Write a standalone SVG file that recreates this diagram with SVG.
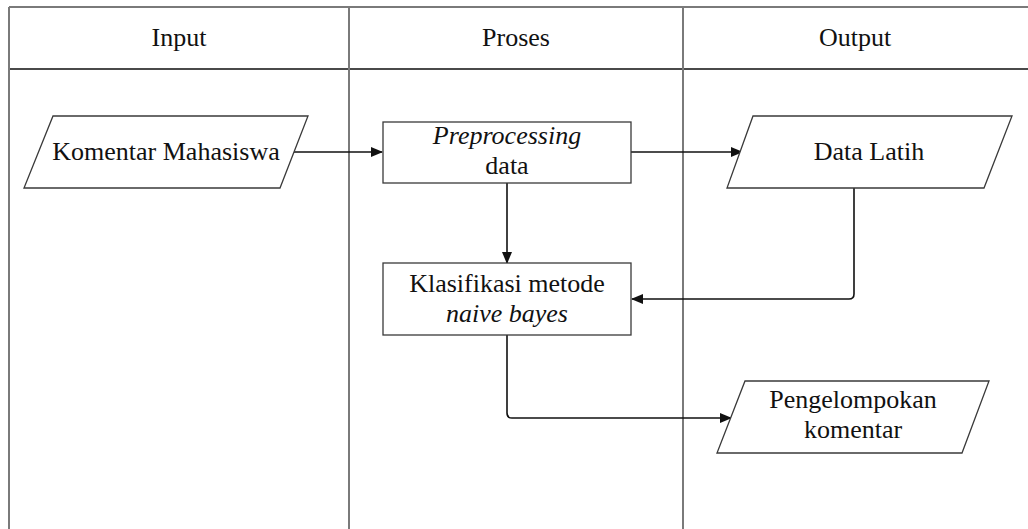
<svg xmlns="http://www.w3.org/2000/svg" width="1028" height="529" viewBox="0 0 1028 529" font-family="Liberation Serif, Times New Roman, serif">
  <style>
    .grid { stroke: #7a7a7a; stroke-width: 2; fill: none; }
    .hdr { stroke: #4a4a4a; stroke-width: 2; fill: none; }
    .node { fill: #ffffff; stroke: #3a3a3a; stroke-width: 1.3; }
    .lbl { font-family: 'Liberation Serif', 'Times New Roman', Times, serif; font-size: 26px; fill: #111; text-anchor: middle; }
    .it { font-style: italic; }
    .conn { fill: none; stroke: #111; stroke-width: 1.6; }
  </style>
  <defs>
    <marker id="arrow" markerWidth="12" markerHeight="10" refX="11" refY="5" orient="auto" markerUnits="userSpaceOnUse">
      <path d="M0,0 L12,5 L0,10 Z" fill="#111"/>
    </marker>
  </defs>
  <rect width="1028" height="529" fill="#ffffff"/>

  <!-- swimlane table -->
  <g id="lanes">
    <line class="grid" x1="9" y1="7" x2="1028" y2="7"/>
    <line class="hdr" x1="9" y1="69" x2="1028" y2="69"/>
    <line class="grid" x1="9" y1="7" x2="9" y2="529"/>
    <line class="grid" x1="349" y1="7" x2="349" y2="529"/>
    <line class="grid" x1="683" y1="7" x2="683" y2="529"/>
    <text class="lbl" x="179" y="46">Input</text>
    <text class="lbl" x="516" y="46">Proses</text>
    <text class="lbl" x="855" y="46">Output</text>
  </g>

  <!-- connectors -->
  <g id="connectors">
    <path class="conn" d="M294,152 H382" marker-end="url(#arrow)"/>
    <path class="conn" d="M631,152 H742" marker-end="url(#arrow)"/>
    <path class="conn" d="M507,183 V263" marker-end="url(#arrow)"/>
    <path class="conn" d="M854,188 V294 Q854,299 849,299 H632" marker-end="url(#arrow)"/>
    <path class="conn" d="M507,335 V413 Q507,418 512,418 H731" marker-end="url(#arrow)"/>
  </g>

  <g id="komentar-mahasiswa">
    <polygon class="node" points="53,116 308,116 280,188 24,188"/>
    <text class="lbl" x="166" y="160">Komentar Mahasiswa</text>
  </g>

  <g id="preprocessing">
    <rect class="node" x="383" y="122" width="248" height="61"/>
    <text class="lbl it" x="507" y="144">Preprocessing</text>
    <text class="lbl" x="507" y="174">data</text>
  </g>

  <g id="data-latih">
    <polygon class="node" points="753,116 1012,116 984,188 727,188"/>
    <text class="lbl" x="869" y="160">Data Latih</text>
  </g>

  <g id="klasifikasi">
    <rect class="node" x="383" y="263" width="248" height="72"/>
    <text class="lbl" x="507" y="292">Klasifikasi metode</text>
    <text class="lbl it" x="507" y="322">naive bayes</text>
  </g>

  <g id="pengelompokan">
    <polygon class="node" points="745,381 989,381 962,453 717,453"/>
    <text class="lbl" x="853" y="408">Pengelompokan</text>
    <text class="lbl" x="853" y="438">komentar</text>
  </g>
</svg>
